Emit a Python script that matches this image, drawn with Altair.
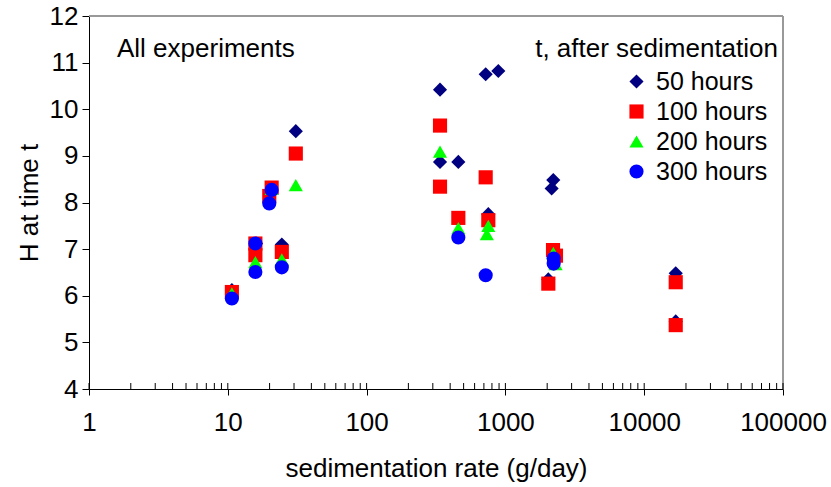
import altair as alt
import pandas as pd

# ---- data ----
series = ["50 hours", "100 hours", "200 hours", "300 hours"]

rate_50 = [10.7, 16.0, 24.5, 30.9, 338, 338, 458, 721, 753, 889, 2038, 2154, 2213, 16870, 16870]
h_50 = [6.12, 7.12, 7.10, 9.53, 10.42, 8.87, 8.87, 10.75, 7.75, 10.82, 6.35, 8.30, 8.48, 6.48, 5.45]

rate_100 = [10.7, 15.8, 15.8, 19.9, 20.7, 24.5, 30.9, 338, 338, 458, 721, 753, 2038, 2203, 2314, 16870, 16870]
h_100 = [6.08, 7.12, 6.87, 8.14, 8.32, 6.94, 9.05, 9.65, 8.34, 7.67, 8.54, 7.62, 6.26, 6.98, 6.86, 6.29, 5.37]

rate_200 = [10.7, 15.8, 20.7, 24.5, 30.9, 338, 458, 735, 753, 2213, 2300]
h_200 = [6.05, 6.72, 8.29, 6.78, 8.37, 9.09, 7.45, 7.32, 7.50, 6.92, 6.68]

rate_300 = [10.7, 15.8, 15.8, 19.9, 20.7, 24.5, 458, 721, 2227, 2227]
h_300 = [5.94, 7.12, 6.51, 7.98, 8.27, 6.61, 7.25, 6.44, 6.80, 6.69]

x_major = [1, 10, 100, 1000, 10000, 100000]
x_ticks_all = [1, 2, 3, 4, 5, 6, 7, 8, 9,
               10, 20, 30, 40, 50, 60, 70, 80, 90,
               100, 200, 300, 400, 500, 600, 700, 800, 900,
               1000, 2000, 3000, 4000, 5000, 6000, 7000, 8000, 9000,
               10000, 20000, 30000, 40000, 50000, 60000, 70000, 80000, 90000,
               100000]
y_ticks = [4, 5, 6, 7, 8, 9, 10, 11, 12]

colors = ["#000080", "#FF0000", "#00FF00", "#0000FF"]
shapes = ["diamond", "square", "triangle-up", "circle"]

rows = []
for name, xs, hs in zip(series, [rate_50, rate_100, rate_200, rate_300], [h_50, h_100, h_200, h_300]):
    for xv, hv in zip(xs, hs):
        rows.append({"rate": xv, "H": hv, "series": name})
df = pd.DataFrame(rows)

W, H = 694, 373
FONT = "Liberation Sans"

xscale = alt.Scale(type="log", domain=[1, 100000], nice=False)
yscale = alt.Scale(domain=[4, 12], nice=False, zero=False)

x_axis = alt.Axis(values=x_major, format="d", title="sedimentation rate (g/day)",
                  grid=False, tickSize=6, labelPadding=14, labelFontSize=26,
                  labelFont=FONT, labelColor="black", titleFont=FONT,
                  titleFontSize=26, titleFontWeight="normal", titleColor="black",
                  titleBaseline="alphabetic", titleY=87,
                  domainColor="black", tickColor="black", labelFlush=False)

points = alt.Chart(df).mark_point(filled=True, size=200, opacity=1, strokeWidth=0.5).encode(
    x=alt.X("rate:Q", scale=xscale, axis=x_axis),
    y=alt.Y("H:Q", scale=yscale,
            axis=alt.Axis(values=y_ticks, title="H at time t", grid=False, tickSize=7,
                          labelPadding=4, labelFontSize=26, labelFont=FONT, labelColor="black",
                          titleFont=FONT, titleFontSize=26, titleFontWeight="normal",
                          titleColor="black", titleAngle=270, titleBaseline="alphabetic",
                          titleAlign="center", titleX=-52, titleY=H / 2,
                          domainColor="black", tickColor="black")),
    color=alt.Color("series:N", scale=alt.Scale(domain=series, range=colors),
                    legend=alt.Legend(title=None)),
    shape=alt.Shape("series:N", scale=alt.Scale(domain=series, range=shapes),
                    legend=alt.Legend(title=None)),
)

inner_ticks = alt.Chart(pd.DataFrame({"v": x_ticks_all})).mark_rule(color="black", strokeWidth=1).encode(
    x=alt.X("v:Q", scale=xscale, axis=x_axis),
    y=alt.value(H),
    y2=alt.value(H - 6),
)

border_top = alt.Chart(pd.DataFrame({"a": [0]})).mark_rule(color="#999999", strokeWidth=2).encode(
    x=alt.value(0), x2=alt.value(W), y=alt.value(0)
)
border_right = alt.Chart(pd.DataFrame({"a": [0]})).mark_rule(color="#999999", strokeWidth=2).encode(
    x=alt.value(W), y=alt.value(0), y2=alt.value(H)
)

label_all = alt.Chart(pd.DataFrame({"t": ["All experiments"]})).mark_text(
    align="left", baseline="alphabetic", fontSize=26, font=FONT, color="black"
).encode(x=alt.value(28), y=alt.value(41), text="t:N")

label_leg = alt.Chart(pd.DataFrame({"t": ["t, after sedimentation"]})).mark_text(
    align="right", baseline="alphabetic", fontSize=26, font=FONT, color="black"
).encode(x=alt.value(689), y=alt.value(41), text="t:N")

chart = alt.layer(border_top, border_right, inner_ticks, points, label_all, label_leg).properties(
    width=W, height=H,
    padding={"left": 89, "top": 16, "right": 48, "bottom": 98},
    autosize="none",
    background="white",
).configure_view(stroke=None).configure_legend(
    orient="none", legendX=535, legendY=53, padding=0, symbolSize=200,
    labelFontSize=25, labelFont=FONT, labelColor="black", rowPadding=4, labelOffset=7,
    symbolStrokeWidth=0,
)

chart.save("out.html", embed_options={"renderer": "svg", "actions": False})
